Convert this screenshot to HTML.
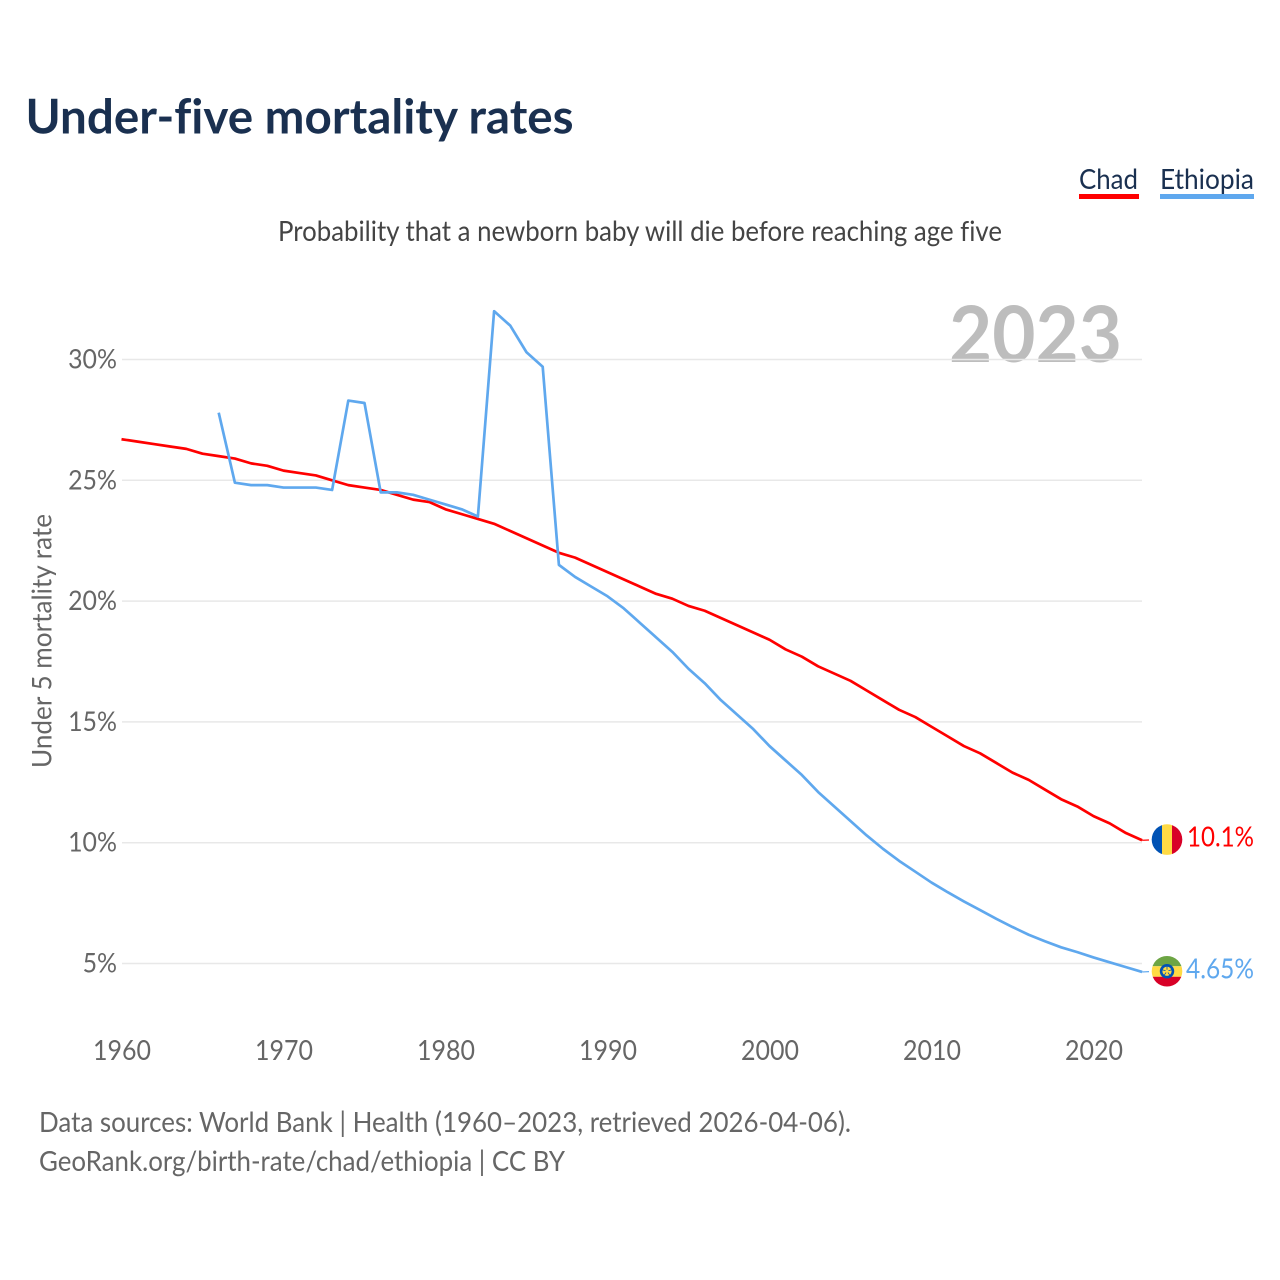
<!DOCTYPE html>
<html lang="en">
<head>
<meta charset="utf-8">
<title>Under-five mortality rates</title>
<style>
html,body{margin:0;padding:0;background:#fff;width:1280px;height:1280px;overflow:hidden}
svg{display:block}
text{font-family:"Lato","Carlito","Liberation Sans",sans-serif;font-variant-ligatures:none;font-feature-settings:"liga" 0}
</style>
</head>
<body>
<svg id="chart" xmlns="http://www.w3.org/2000/svg" width="1280" height="1280" viewBox="0 0 1280 1280">
  <rect x="0" y="0" width="1280" height="1280" fill="#ffffff"/>
  <text x="25.5" y="133.5" font-size="48" font-weight="700" fill="#1a3050" textLength="548" lengthAdjust="spacingAndGlyphs">Under-five mortality rates</text>
  <text x="640" y="241" font-size="28" fill="#444444" text-anchor="middle" textLength="724" lengthAdjust="spacingAndGlyphs">Probability that a newborn baby will die before reaching age five</text>

  <g>
    <text x="1079" y="189" font-size="28" fill="#1a3050" textLength="59" lengthAdjust="spacingAndGlyphs">Chad</text>
    <rect x="1079" y="194" width="60" height="5" fill="#ff0000"/>
  </g>
  <g>
    <text x="1160" y="189" font-size="28" fill="#1a3050" textLength="94" lengthAdjust="spacingAndGlyphs">Ethiopia</text>
    <rect x="1160" y="194" width="94" height="5" fill="#5fa8ee"/>
  </g>

  <text x="1122" y="362" font-size="78" font-weight="700" fill="#bdbdbd" text-anchor="end" textLength="173" lengthAdjust="spacingAndGlyphs">2023</text>

  <g id="grid"></g>
  <g id="yticks"></g>
  <g id="xticks"></g>
  <text transform="translate(51.5,641) rotate(-90)" font-size="27.5" fill="#666666" text-anchor="middle" textLength="254" lengthAdjust="spacingAndGlyphs">Under 5 mortality rate</text>

  <g id="series"></g>
  <g id="endpoints"></g>

  <text x="39" y="1132" font-size="28" fill="#666666" textLength="812" lengthAdjust="spacingAndGlyphs">Data sources: World Bank | Health (1960–2023, retrieved 2026-04-06).</text>
  <text x="39" y="1171" font-size="28" fill="#666666" textLength="526" lengthAdjust="spacingAndGlyphs">GeoRank.org/birth-rate/chad/ethiopia | CC BY</text>
</svg>
<script>
const yTickValues = [5, 10, 15, 20, 25, 30];
const xTickYears = [1960, 1970, 1980, 1990, 2000, 2010, 2020];
const chadStartYear = 1960;
const chadValues = [26.7,26.6,26.5,26.4,26.3,26.1,26.0,25.9,25.7,25.6,25.4,25.3,25.2,25.0,24.8,24.7,24.6,24.4,24.2,24.1,23.8,23.6,23.4,23.2,22.9,22.6,22.3,22.0,21.8,21.5,21.2,20.9,20.6,20.3,20.1,19.8,19.6,19.3,19.0,18.7,18.4,18.0,17.7,17.3,17.0,16.7,16.3,15.9,15.5,15.2,14.8,14.4,14.0,13.7,13.3,12.9,12.6,12.2,11.8,11.5,11.1,10.8,10.4,10.1];
const ethiopiaStartYear = 1966;
const ethiopiaValues = [27.8,24.9,24.8,24.8,24.7,24.7,24.7,24.6,28.3,28.2,24.5,24.5,24.4,24.2,24.0,23.8,23.5,32.0,31.4,30.3,29.7,21.5,21.0,20.6,20.2,19.7,19.1,18.5,17.9,17.2,16.6,15.9,15.3,14.7,14.0,13.4,12.8,12.1,11.5,10.9,10.3,9.75,9.25,8.8,8.35,7.95,7.57,7.21,6.85,6.51,6.19,5.92,5.67,5.47,5.25,5.05,4.85,4.65];
const chadLabel = '10.1%';
const ethiopiaLabel = '4.65%';

const NS = 'http://www.w3.org/2000/svg';
const xScale = function (year) { return 121.5 + (year - 1960) * 16.2; };
const yScale = function (v) { return 963.5 - (v - 5) * 24.16; };
const plotLeft = 122;
const plotRight = 1142;

function make(tag, attrs, parent) {
  const el = document.createElementNS(NS, tag);
  Object.keys(attrs).forEach(function (k) { el.setAttribute(k, attrs[k]); });
  parent.appendChild(el);
  return el;
}

const gridGroup = document.getElementById('grid');
const yGroup = document.getElementById('yticks');
yTickValues.forEach(function (v) {
  const line = make('line', {x1: plotLeft, x2: plotRight, y1: yScale(v), y2: yScale(v), stroke: '#e8e8e8', 'stroke-width': 1.5}, gridGroup);
  
  
  const label = make('text', {x: 117, y: yScale(v) + 9, 'font-size': 27.5, fill: '#666666', 'text-anchor': 'end', lengthAdjust: 'spacingAndGlyphs'}, yGroup);
  label.textContent = v + '%';
  label.setAttribute('textLength', (label.getComputedTextLength() * 0.906).toFixed(2));
  
  
});

const xGroup = document.getElementById('xticks');
xTickYears.forEach(function (year) {
  const label = make('text', {x: xScale(year) + 0.5, y: 1060, 'font-size': 28, fill: '#666666', 'text-anchor': 'middle', textLength: 58, lengthAdjust: 'spacingAndGlyphs'}, xGroup);
  label.textContent = year;
  
  
});

function pointsFor(values, startYear) {
  return values.map(function (v, i) { return xScale(startYear + i).toFixed(2) + ',' + yScale(v).toFixed(2); });
}

const seriesGroup = document.getElementById('series');
const chadPts = pointsFor(chadValues, chadStartYear);
const chadEnd = chadValues[chadValues.length - 1];
const chadLine = make('polyline', {points: chadPts.join(' '), fill: 'none', stroke: '#ff0000', 'stroke-width': 2.7, 'stroke-linejoin': 'round'}, seriesGroup);



const ethPts = pointsFor(ethiopiaValues, ethiopiaStartYear);
const ethEnd = ethiopiaValues[ethiopiaValues.length - 1];
const ethLine = make('polyline', {points: ethPts.join(' '), fill: 'none', stroke: '#5fa8ee', 'stroke-width': 2.7, 'stroke-linejoin': 'round'}, seriesGroup);



const endGroup = document.getElementById('endpoints');
const defs = make('defs', {}, endGroup);

function addClip(id, cy) {
  const clip = make('clipPath', {id: id}, defs);
  make('circle', {cx: 1167, cy: cy, r: 15.3}, clip);
}

const chadCy = yScale(chadEnd) - 0.7;
const ethCy = yScale(ethEnd) - 0.7;
addClip('clip-chad', chadCy);
addClip('clip-eth', ethCy);

const chadLink = make('line', {x1: xScale(2023), x2: 1149, y1: yScale(chadEnd), y2: yScale(chadEnd) - 0.3, stroke: '#ff0000', 'stroke-width': 1.2}, endGroup);


const ethLink = make('line', {x1: xScale(2023), x2: 1149, y1: yScale(ethEnd), y2: yScale(ethEnd) - 0.3, stroke: '#5fa8ee', 'stroke-width': 1.2}, endGroup);



const chadFlag = make('g', {'clip-path': 'url(#clip-chad)'}, endGroup);


make('rect', {x: 1151, y: chadCy - 16, width: 11, height: 32, fill: '#0052b4'}, chadFlag);
make('rect', {x: 1162, y: chadCy - 16, width: 10, height: 32, fill: '#ffda44'}, chadFlag);
make('rect', {x: 1172, y: chadCy - 16, width: 11, height: 32, fill: '#d80027'}, chadFlag);

const ethFlag = make('g', {'clip-path': 'url(#clip-eth)'}, endGroup);


make('rect', {x: 1151, y: ethCy - 16, width: 32, height: 11, fill: '#6da544'}, ethFlag);
make('rect', {x: 1151, y: ethCy - 5, width: 32, height: 10.5, fill: '#ffda44'}, ethFlag);
make('rect', {x: 1151, y: ethCy + 5.5, width: 32, height: 11, fill: '#d80027'}, ethFlag);
make('circle', {cx: 1167, cy: ethCy, r: 7.2, fill: '#0052b4'}, ethFlag);
make('circle', {cx: 1167, cy: ethCy, r: 4.6, fill: '#ffda44'}, ethFlag);
for (let k = 0; k < 5; k++) {
  const angle = (k * 72 + 54) * Math.PI / 180;
  make('line', {x1: 1167 + Math.cos(angle) * 1.5, y1: ethCy + Math.sin(angle) * 1.5, x2: 1167 + Math.cos(angle) * 5, y2: ethCy + Math.sin(angle) * 5, stroke: '#0052b4', 'stroke-width': 0.8}, ethFlag);
}

const chadValueLabel = make('text', {x: 1254, y: chadCy + 7, 'font-size': 28, fill: '#ff0000', 'text-anchor': 'end', textLength: 67, lengthAdjust: 'spacingAndGlyphs'}, endGroup);
chadValueLabel.textContent = chadLabel;



const ethValueLabel = make('text', {x: 1254, y: ethCy + 7, 'font-size': 28, fill: '#5fa8ee', 'text-anchor': 'end', textLength: 68, lengthAdjust: 'spacingAndGlyphs'}, endGroup);
ethValueLabel.textContent = ethiopiaLabel;


</script>
</body>
</html>
